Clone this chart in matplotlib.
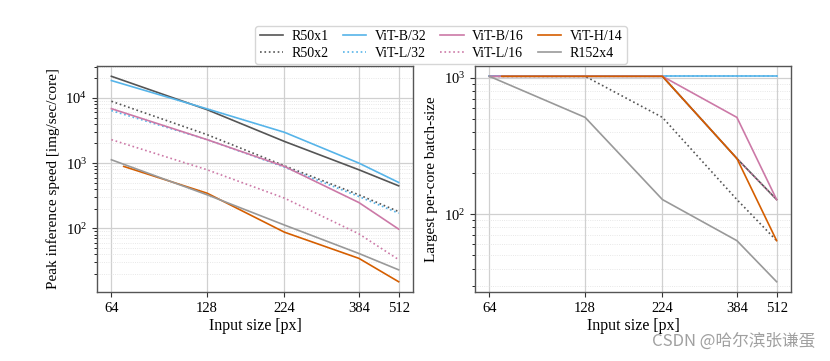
import numpy as np
import matplotlib
matplotlib.use("Agg")
import matplotlib.pyplot as plt
from matplotlib.ticker import FixedLocator, FixedFormatter, NullFormatter

plt.rcParams['font.family'] = ['Liberation Serif', 'DejaVu Serif']
plt.rcParams['mathtext.fontset'] = 'stix'

# input sizes
sizes = [64, 128, 224, 384, 512]
sizes_h14 = [70, 128, 224, 384, 512]
xticks = [64, 128, 224, 384, 512]
xtick_labels = ['64', '128', '224', '384', '512']

# peak inference speed [img/sec/core]
speed = {
    'R50x1':    [21500, 6600, 2150, 790, 448],
    'R50x2':    [8900, 2730, 910, 326, 180],
    'ViT-B/32': [18500, 6800, 2970, 1000, 505],
    'ViT-L/32': [6400, 2290, 867, 307, 170],
    'ViT-B/16': [6850, 2290, 889, 248, 97],
    'ViT-L/16': [2290, 790, 290, 82, 33],
    'ViT-H/14': [889, 345, 87, 34.5, 15.1],
    'R152x4':   [1125, 326, 112, 41, 23],
}

# largest per-core batch size
batch = {
    'R50x1':    [1024, 1024, 1024, 256, 128],
    'R50x2':    [1024, 1024, 512, 128, 64],
    'ViT-B/32': [1024, 1024, 1024, 1024, 1024],
    'ViT-L/32': [1024, 1024, 1024, 1024, 1024],
    'ViT-B/16': [1024, 1024, 1024, 512, 128],
    'ViT-L/16': [1024, 1024, 1024, 256, 128],
    'ViT-H/14': [1024, 1024, 1024, 256, 64],
    'R152x4':   [1024, 512, 128, 64, 32],
}

styles = {
    'R50x1':    ('#555555', '-'),
    'R50x2':    ('#555555', ':'),
    'ViT-B/32': ('#56B4E9', '-'),
    'ViT-L/32': ('#56B4E9', ':'),
    'ViT-B/16': ('#CC79A7', '-'),
    'ViT-L/16': ('#CC79A7', ':'),
    'ViT-H/14': ('#D55E00', '-'),
    'R152x4':   ('#999999', '-'),
}

fig = plt.figure(figsize=(8.3, 3.61), dpi=100)
ax1 = fig.add_axes([0.1169, 0.1911, 0.3807, 0.6260])
ax2 = fig.add_axes([0.5723, 0.1911, 0.3807, 0.6260])

for ax, data in [(ax1, speed), (ax2, batch)]:
    for name, vals in data.items():
        c, ls = styles[name]
        xs = sizes_h14 if name == 'ViT-H/14' else sizes
        ax.plot(xs, vals, color=c, linestyle=ls, linewidth=1.2, label=name)
    ax.set_xscale('log')
    ax.set_yscale('log')
    ax.xaxis.set_major_locator(FixedLocator(xticks))
    ax.xaxis.set_major_formatter(FixedFormatter(xtick_labels))
    ax.xaxis.set_minor_locator(FixedLocator([]))
    ax.xaxis.set_minor_formatter(NullFormatter())
    ax.grid(True, which='major', color='#d0d0d0', linewidth=0.9)
    ax.grid(True, which='minor', axis='y', color='#e0e0e0', linestyle=':', linewidth=0.6)
    ax.tick_params(labelsize=10.5, color='#333333')
    for s in ax.spines.values():
        s.set_color('#555555')
        s.set_linewidth(1.0)
    ax.set_xlabel('Input size [px]', fontsize=11.5, labelpad=2)

ax1.set_ylabel('Peak inference speed [img/sec/core]', fontsize=11)
ax2.set_ylabel('Largest per-core batch-size', fontsize=11)

handles, labels = ax1.get_legend_handles_labels()
order = ['R50x1', 'R50x2', 'ViT-B/32', 'ViT-L/32', 'ViT-B/16', 'ViT-L/16', 'ViT-H/14', 'R152x4']
h = [handles[labels.index(n)] for n in order]
fig.legend(h, order, loc='upper center', bbox_to_anchor=(441 / 830, 1 - 19 / 361),
           ncol=4, fontsize=10, frameon=True, handlelength=1.7, handletextpad=0.6,
           columnspacing=1.0, labelspacing=0.25, borderpad=0.3, edgecolor='#cccccc')

fig.text(0.982, 0.03, 'CSDN @哈尔滨张谦蛋', ha='right', va='bottom', fontsize=12,
         color='#a0a0a0', family=['Noto Sans CJK SC', 'DejaVu Sans'])

fig.savefig('out.png', dpi=100)
